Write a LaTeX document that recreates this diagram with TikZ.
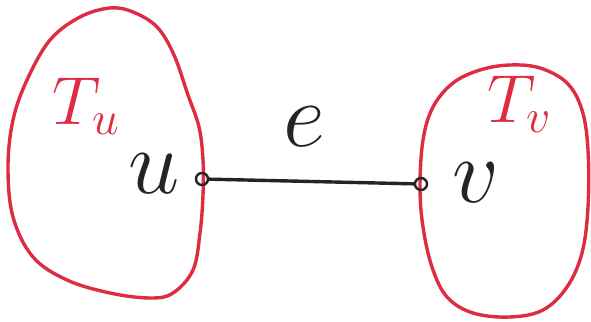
\RequirePackage{fix-cm}
\documentclass[tikz,border=0pt]{standalone}
\definecolor{blobred}{RGB}{222,45,66}
\definecolor{inkblack}{RGB}{35,35,40}

\begin{document}
\begin{tikzpicture}[x=1pt, y=-1pt,
    blob/.style={blobred, line width=3.4pt},
    vertex/.style={circle, draw=inkblack, line width=2.4pt, inner sep=0pt, minimum size=12pt},
    edgeline/.style={inkblack, line width=3.4pt},
    biglabel/.style={inkblack, inner sep=0pt, font=\fontsize{92}{92}\selectfont},
    treelabel/.style={blobred, inner sep=0pt, font=\fontsize{68}{68}\selectfont}]

  \useasboundingbox (0,0) rectangle (591,321);

  % Teilbaum T_u (links)
  \draw[blob] plot[smooth cycle, tension=0.6] coordinates {
    (110,8) (133,12) (157,27) (174,55) (188,95) (199,127) (203,160) (203,195)
    (200,233) (193,270) (173,293) (150,298) (110,293) (67,280) (33,257)
    (13,217) (8,167) (13,120) (27,80) (50,40) (80,17)};

  % Teilbaum T_v (rechts)
  \draw[blob] plot[smooth cycle, tension=0.6] coordinates {
    (510,65) (540,68) (567,83) (582,110) (588,150) (588,207) (582,253)
    (567,287) (543,310) (510,317) (473,313) (447,297) (432,267) (423,227)
    (420,187) (423,140) (433,107) (453,83) (480,70)};

  % Knoten u und v
  \node[vertex] (u) at (202,179) {};
  \node[vertex] (v) at (421,184) {};

  % Kante e
  \draw[edgeline] (u) -- (v);

  % Beschriftungen
  \node[biglabel] (ulabel) at (154,174) {$u$};
  \node[biglabel] (vlabel) at (476,183) {$v$};
  \node[biglabel] (elabel) at (304,127) {$e$};
  \node[treelabel] (Tu) at (86,106) {$T_u$};
  \node[treelabel] (Tv) at (519,104) {$T_v$};

\end{tikzpicture}
\end{document}
